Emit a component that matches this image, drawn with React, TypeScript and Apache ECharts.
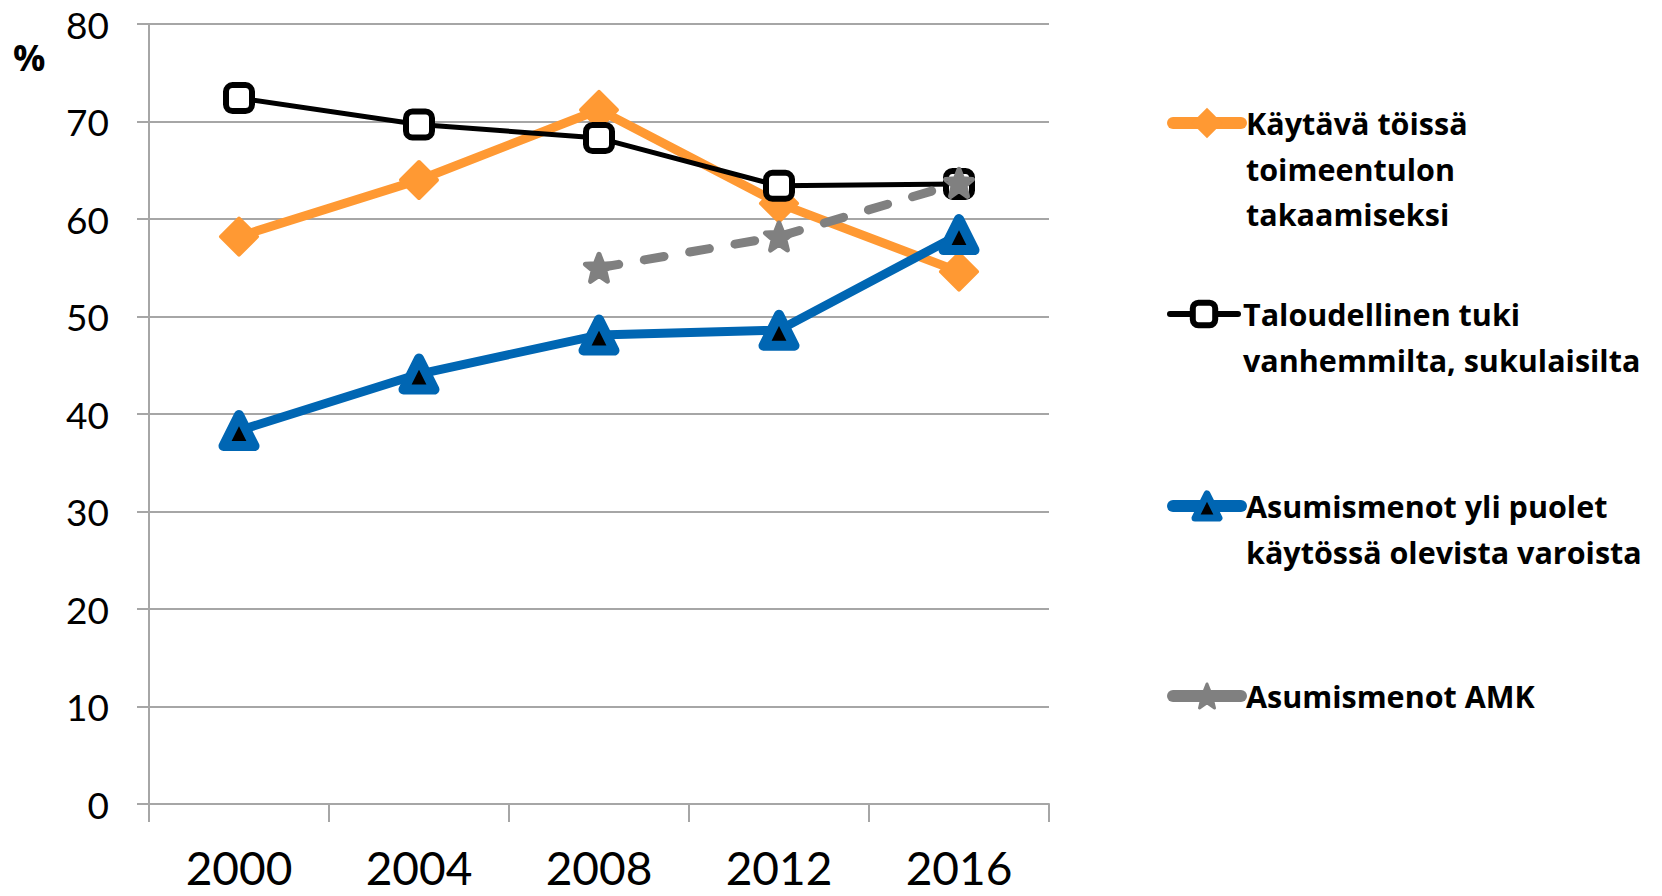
import React, { useEffect, useRef } from "react";
import * as echarts from "echarts";

const years = ["2000", "2004", "2008", "2012", "2016"];
const seriesNames = [
  "Käytävä töissä toimeentulon takaamiseksi",
  "Taloudellinen tuki vanhemmilta, sukulaisilta",
  "Asumismenot yli puolet käytössä olevista varoista",
  "Asumismenot AMK",
];
const legendLines = [
  ["Käytävä töissä", "toimeentulon", "takaamiseksi"],
  ["Taloudellinen tuki", "vanhemmilta, sukulaisilta"],
  ["Asumismenot yli puolet", "käytössä olevista varoista"],
  ["Asumismenot AMK"],
];
const workValues = [58.2, 64.0, 71.2, 61.6, 54.6];
const parentSupport = [72.4, 69.7, 68.3, 63.4, 63.6];
const housingHalf = [38.3, 44.1, 48.1, 48.6, 58.4];
const housingAmk = [null, null, 55.0, 58.2, 63.7];
const yMin = 0;
const yMax = 80;
const yStep = 10;

const ORANGE = "#FF9933";
const BLACK = "#000000";
const BLUE = "#0066B3";
const GRAY = "#808080";
const GRID = "#A6A6A6";
const FONT = "Lato";
const LEGEND_FONT = "Open Sans";

const STAR =
  "path://M50,0 L63,32 L98,34 L71,56 L80,92 L50,72 L20,92 L29,56 L2,34 L37,32 Z";

export default function App() {
  const ref = useRef<HTMLDivElement>(null);
  useEffect(() => {
    if (!ref.current) return;
    const chart = echarts.init(ref.current, null, { renderer: "svg" });
    const LH = 45.5;
    const firstLineY = [123, 314, 506, 696];
    const legendIcon = [
      { h: 38, line: { color: ORANGE, width: 12 }, item: { color: ORANGE, borderWidth: 0 } },
      { h: 28, line: { color: BLACK, width: 6 }, item: { color: "#fff", borderColor: BLACK, borderWidth: 6 } },
      { h: 30, line: { color: BLUE, width: 12 }, item: { color: BLACK, borderColor: BLUE, borderWidth: 7 } },
      { h: 30, line: { color: GRAY, width: 12 }, item: { color: GRAY, borderColor: GRAY, borderWidth: 3 } },
    ];
    const legends = seriesNames.map((name, i) => {
      const n = legendLines[i].length;
      const total = 2 * n - 1;
      return {
        data: [name],
        orient: "vertical",
        left: 1167,
        top: firstLineY[i] - (total * LH) / 2,
        padding: 0,
        itemWidth: 68,
        itemHeight: legendIcon[i].h,
        selectedMode: false,
        formatter: () => "\n".repeat(n - 1) + legendLines[i].join("\n"),
        lineStyle: { ...legendIcon[i].line, type: "solid", cap: "round" },
        itemStyle: legendIcon[i].item,
        textStyle: {
          fontFamily: LEGEND_FONT,
          fontWeight: "bold",
          fontSize: 30.5,
          color: "#000",
          lineHeight: LH,
        },
      };
    });

    const option: any = {
      animation: false,
      backgroundColor: "#fff",
      grid: { left: 149, right: 613, top: 24, bottom: 92, containLabel: false },
      legend: legends,
      graphic: [
        {
          type: "text",
          x: 13,
          y: 57,
          style: {
            text: "%",
            font: `bold 36px ${LEGEND_FONT}`,
            fill: "#000",
            align: "left",
            verticalAlign: "middle",
          },
        },
      ],
      xAxis: {
        type: "category",
        data: years,
        boundaryGap: true,
        axisLine: { show: true, lineStyle: { color: GRID, width: 2 } },
        axisTick: { show: true, length: 18, lineStyle: { color: GRID, width: 2 } },
        axisLabel: { fontFamily: FONT, fontSize: 46, color: "#000", margin: 40, lineHeight: 46 },
        splitLine: { show: false },
      },
      yAxis: {
        type: "value",
        min: yMin,
        max: yMax,
        interval: yStep,
        axisLine: { show: true, lineStyle: { color: GRID, width: 2 } },
        axisTick: { show: true, length: 12, lineStyle: { color: GRID, width: 2 } },
        axisLabel: { fontFamily: FONT, fontSize: 37, color: "#000", margin: 40 },
        splitLine: { show: true, lineStyle: { color: GRID, width: 2 } },
      },
      series: [
        {
          name: seriesNames[0],
          type: "line",
          data: workValues,
          symbol: "diamond",
          symbolSize: 36,
          lineStyle: { color: ORANGE, width: 9, cap: "round", join: "round" },
          itemStyle: { color: ORANGE, borderColor: ORANGE, borderWidth: 4, borderJoin: "round" },
        },
        {
          name: seriesNames[1],
          type: "line",
          data: parentSupport,
          symbol: "roundRect",
          symbolSize: 26,
          lineStyle: { color: BLACK, width: 5, cap: "round", join: "round" },
          itemStyle: { color: "#fff", borderColor: BLACK, borderWidth: 6 },
        },
        {
          name: seriesNames[2],
          type: "line",
          data: housingHalf,
          symbol: "triangle",
          symbolSize: 31,
          lineStyle: { color: BLUE, width: 9, cap: "round", join: "round" },
          itemStyle: { color: BLACK, borderColor: BLUE, borderWidth: 10, borderJoin: "round" },
        },
        {
          name: seriesNames[3],
          type: "line",
          data: housingAmk,
          symbol: STAR,
          symbolSize: 27,
          lineStyle: { color: GRAY, width: 9, type: [20, 26], cap: "round", join: "round" },
          itemStyle: { color: GRAY, borderColor: GRAY, borderWidth: 5, borderJoin: "round" },
        },
      ],
    };
    chart.setOption(option);
    return () => chart.dispose();
  }, []);
  return (
    <div
      ref={ref}
      style={{ position: "fixed", left: 0, top: 0, width: 1662, height: 896 }}
    />
  );
}
